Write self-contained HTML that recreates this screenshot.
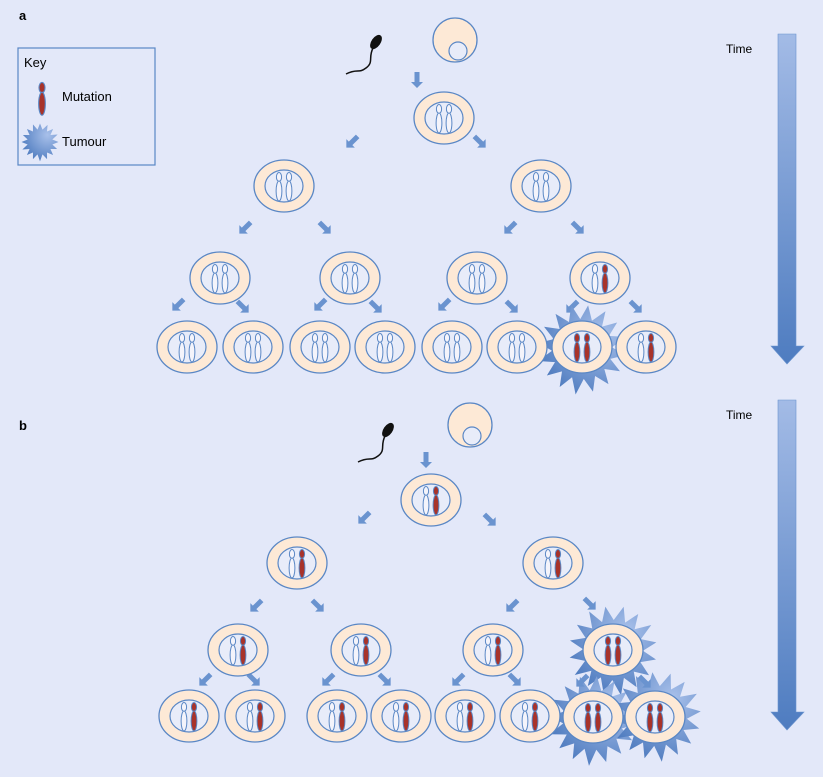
<!DOCTYPE html>
<html><head><meta charset="utf-8"><style>
html,body{margin:0;padding:0;background:#e3e8f9;}
svg{display:block;font-family:"Liberation Sans",sans-serif;}
</style></head><body>
<svg width="823" height="777" viewBox="0 0 823 777" xmlns="http://www.w3.org/2000/svg">
<defs>
<linearGradient id="tg" x1="0" y1="0" x2="0" y2="1"><stop offset="0" stop-color="#a3bbe6"/><stop offset="1" stop-color="#4e7cc0"/></linearGradient>
<radialGradient id="sg" cx="0.7" cy="0.3" r="0.8"><stop offset="0" stop-color="#a8c0ea"/><stop offset="1" stop-color="#4a78bd"/></radialGradient>
<g id="chn"><ellipse cx="0" cy="-9" rx="2.6" ry="4.5" fill="#f4f4fb" stroke="#5a87c5" stroke-width="1"/><ellipse cx="0" cy="5" rx="2.9" ry="10" fill="#f4f4fb" stroke="#5a87c5" stroke-width="1"/></g>
<g id="chm"><ellipse cx="0" cy="-9" rx="2.6" ry="4.5" fill="#a8332a" stroke="#5a87c5" stroke-width="1"/><ellipse cx="0" cy="5" rx="2.9" ry="10" fill="#a8332a" stroke="#5a87c5" stroke-width="1"/></g>
<g id="cellb"><ellipse rx="30" ry="26" fill="#fde9d6" stroke="#5a87c5" stroke-width="1.3"/><ellipse rx="19" ry="16" fill="#e8ecf9" stroke="#5a87c5" stroke-width="1.2"/></g>
<g id="c0"><use href="#cellb"/><use href="#chn" x="-5"/><use href="#chn" x="5"/></g>
<g id="c1"><use href="#cellb"/><use href="#chn" x="-5"/><use href="#chm" x="5"/></g>
<g id="c2"><use href="#cellb"/><use href="#chm" x="-5"/><use href="#chm" x="5"/></g>
<path id="ar" d="M-8,-2.5 L2,-2.5 L2,-6 L8,0 L2,6 L2,2.5 L-8,2.5Z" fill="#6a93cf"/>
<polygon id="star" fill="url(#sg)" points="44,0 29.4,5.9 40.7,16.8 24.9,16.7 31.1,31.1 16.7,24.9 16.8,40.7 5.9,29.4 0,46 -5.9,29.4 -16.8,40.7 -16.7,24.9 -31.1,31.1 -24.9,16.7 -42,18 -29.4,5.9 -44,0 -29.4,-5.9 -40.7,-16.8 -24.9,-16.7 -31.1,-31.1 -16.7,-24.9 -16.8,-42 -5.9,-29.4 0,-44 5.9,-29.4 18,-40.7 16.7,-24.9 31.1,-31.1 24.9,-16.7 42,-18 29.4,-5.9"/>
<g id="spermA"><ellipse cx="0" cy="0" rx="4.5" ry="8" fill="#111" transform="rotate(35)"/><path d="M-3,6 C-8,16 -2,20 -10,26 C-18,32 -18,26 -30,32" fill="none" stroke="#111" stroke-width="1.5"/></g>
</defs>

<text x="19" y="20" font-size="13" font-weight="bold">a</text>
<text x="19" y="430" font-size="13" font-weight="bold">b</text>

<!-- key -->
<rect x="18" y="48" width="137" height="117" fill="none" stroke="#5a87c5" stroke-width="1.2"/>
<text x="24" y="67" font-size="13">Key</text>
<g transform="translate(42,98) scale(1.15)"><use href="#chm"/></g>
<text x="62" y="101" font-size="13">Mutation</text>
<g transform="translate(40,142) scale(0.42)"><use href="#star"/></g>
<text x="62" y="146" font-size="13">Tumour</text>

<!-- time arrows -->
<text x="726" y="53" font-size="12">Time</text>
<path d="M778,34 H796 V346 H804 L787,364 L771,346 H778Z" fill="url(#tg)" stroke="#6a93cf" stroke-width="0.6"/>
<text x="726" y="419" font-size="12">Time</text>
<path d="M778,400 H796 V712 H804 L787,730 L771,712 H778Z" fill="url(#tg)" stroke="#6a93cf" stroke-width="0.6"/>

<!-- PART A -->
<circle cx="455" cy="40" r="22" fill="#fde9d6" stroke="#5a87c5" stroke-width="1.3"/>
<circle cx="458" cy="51" r="9" fill="#e8ecf9" stroke="#5a87c5" stroke-width="1.2"/>
<use href="#spermA" x="376" y="42"/>
<use href="#ar" transform="translate(417,80) rotate(90)"/>
<use href="#ar" transform="translate(352,142) rotate(135)"/>
<use href="#ar" transform="translate(480,142) rotate(45)"/>
<use href="#ar" transform="translate(245,228) rotate(135)"/>
<use href="#ar" transform="translate(325,228) rotate(45)"/>
<use href="#ar" transform="translate(510,228) rotate(135)"/>
<use href="#ar" transform="translate(578,228) rotate(45)"/>
<use href="#ar" transform="translate(178,305) rotate(135)"/>
<use href="#ar" transform="translate(243,307) rotate(45)"/>
<use href="#ar" transform="translate(320,305) rotate(135)"/>
<use href="#ar" transform="translate(376,307) rotate(45)"/>
<use href="#ar" transform="translate(444,305) rotate(135)"/>
<use href="#ar" transform="translate(512,307) rotate(45)"/>
<use href="#ar" transform="translate(572,307) rotate(135)"/>
<use href="#ar" transform="translate(636,307) rotate(45)"/>
<use href="#c0" x="444" y="118"/>
<use href="#c0" x="284" y="186"/><use href="#c0" x="541" y="186"/>
<use href="#c0" x="220" y="278"/><use href="#c0" x="350" y="278"/><use href="#c0" x="477" y="278"/><use href="#c1" x="600" y="278"/>
<g transform="translate(582,349) rotate(8)"><use href="#star"/></g>
<use href="#c0" x="187" y="347"/><use href="#c0" x="253" y="347"/><use href="#c0" x="320" y="347"/><use href="#c0" x="385" y="347"/>
<use href="#c0" x="452" y="347"/><use href="#c0" x="517" y="347"/><use href="#c2" x="582" y="347"/><use href="#c1" x="646" y="347"/>

<!-- PART B -->
<circle cx="470" cy="425" r="22" fill="#fde9d6" stroke="#5a87c5" stroke-width="1.3"/>
<circle cx="472" cy="436" r="9" fill="#e8ecf9" stroke="#5a87c5" stroke-width="1.2"/>
<use href="#spermA" x="388" y="430"/>
<use href="#ar" transform="translate(426,460) rotate(90)"/>
<use href="#ar" transform="translate(364,518) rotate(135)"/>
<use href="#ar" transform="translate(490,520) rotate(45)"/>
<use href="#ar" transform="translate(256,606) rotate(135)"/>
<use href="#ar" transform="translate(318,606) rotate(45)"/>
<use href="#ar" transform="translate(512,606) rotate(135)"/>
<use href="#ar" transform="translate(590,604) rotate(45)"/>
<use href="#ar" transform="translate(205,680) rotate(135)"/>
<use href="#ar" transform="translate(254,680) rotate(45)"/>
<use href="#ar" transform="translate(328,680) rotate(135)"/>
<use href="#ar" transform="translate(385,680) rotate(45)"/>
<use href="#ar" transform="translate(458,680) rotate(135)"/>
<use href="#ar" transform="translate(515,680) rotate(45)"/>
<use href="#c1" x="431" y="500"/>
<use href="#c1" x="297" y="563"/><use href="#c1" x="553" y="563"/>
<use href="#c1" x="238" y="650"/><use href="#c1" x="361" y="650"/><use href="#c1" x="493" y="650"/>
<g transform="translate(613,650) rotate(-10)"><use href="#star"/></g>
<g transform="translate(593,720) rotate(5)"><use href="#star"/></g>
<g transform="translate(657,716) rotate(-6)"><use href="#star"/></g>
<use href="#c2" x="613" y="650"/>
<use href="#ar" transform="translate(582,681) rotate(135)"/>
<use href="#ar" transform="translate(645,682) rotate(45)"/>
<use href="#c1" x="189" y="716"/><use href="#c1" x="255" y="716"/><use href="#c1" x="337" y="716"/><use href="#c1" x="401" y="716"/>
<use href="#c1" x="465" y="716"/><use href="#c1" x="530" y="716"/><use href="#c2" x="593" y="717"/><use href="#c2" x="655" y="717"/>
</svg>
</body></html>
